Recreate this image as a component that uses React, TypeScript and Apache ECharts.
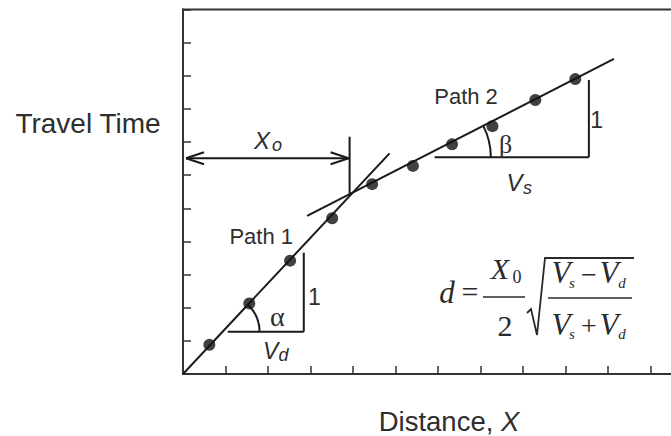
import React, { useEffect, useRef } from "react";
import * as echarts from "echarts";

// ---- data (chart units: one unit = one tick interval) ----
const distance = [0.62, 1.56, 2.52, 3.51, 4.45, 5.41, 6.33, 7.28, 8.29, 9.23];
const travelTime = [0.88, 2.13, 3.42, 4.7, 5.73, 6.28, 6.93, 7.48, 8.27, 8.9];
const path1Fit = [
  [0, 0],
  [4.86, 6.66],
];
const path2Fit = [
  [2.92, 4.77],
  [10.14, 9.51],
];
const xRange = [0, 12];
const yRange = [0, 11];

// annotation anchors (data units)
const crossoverX = 3.92;
const xoArrowY = 6.51;
const xoBarTop = 7.16;
const xoBarBottom = 5.45;
const tri1 = { baseY: 1.276, x0: 1.054, x1: 2.842, top: 3.66, arcX: 0.931 };
const tri2 = { baseY: 6.54, x0: 5.92, x1: 9.55, top: 8.87, arcX: 5.62 };

const INK = "#1a1a1a";
const AXIS = "#333";
const TXT = "#2e2e2e";
const SANS = "'Liberation Sans', Arial, sans-serif";
const SERIF = "'Liberation Serif', 'Times New Roman', serif";

export default function App() {
  const ref = useRef<HTMLDivElement>(null);
  useEffect(() => {
    if (!ref.current) return;
    const chart = echarts.init(ref.current, undefined, { renderer: "svg" });

    const renderItem = (_params: any, api: any) => {
      const c = (x: number, y: number) => api.coord([x, y]);
      const kids: any[] = [];
      const seg = (a: number[], b: number[], w = 2) =>
        kids.push({
          type: "line",
          shape: { x1: a[0], y1: a[1], x2: b[0], y2: b[1] },
          style: { stroke: INK, lineWidth: w },
        });
      const txt = (
        p: number[],
        text: string,
        size: number,
        family = SANS,
        italic = false,
        dx = 0,
        dy = 0
      ) =>
        kids.push({
          type: "text",
          x: p[0] + dx,
          y: p[1] + dy,
          style: {
            text,
            fill: TXT,
            fontSize: size,
            fontFamily: family,
            fontStyle: italic ? "italic" : "normal",
            align: "center",
            verticalAlign: "middle",
          },
        });
      const angleOf = (fit: number[][]) => {
        const a = c(fit[0][0], fit[0][1]);
        const b = c(fit[1][0], fit[1][1]);
        return Math.atan2(a[1] - b[1], b[0] - a[0]);
      };

      // X_o arrow and bar
      const barTop = c(crossoverX, xoBarTop);
      const barBot = c(crossoverX, xoBarBottom);
      seg(barTop, barBot, 2);
      const aL = c(xRange[0], xoArrowY);
      const aR = c(crossoverX, xoArrowY);
      const left = [aL[0] + 3, aL[1]];
      const right = [aR[0] - 1, aR[1]];
      seg(left, right, 2);
      const hl = 18,
        hw = 6;
      seg(left, [left[0] + hl, left[1] - hw], 2);
      seg(left, [left[0] + hl, left[1] + hw], 2);
      seg(right, [right[0] - hl, right[1] - hw], 2);
      seg(right, [right[0] - hl, right[1] + hw], 2);
      const xo = c(1.86, 7.06);
      txt(xo, "X", 24, SANS, true);
      txt(xo, "o", 18, SANS, true, 15, 5);

      // Path 1 triangle
      seg(c(tri1.x0, tri1.baseY), c(tri1.x1, tri1.baseY), 2);
      seg(c(tri1.x1, tri1.baseY), c(tri1.x1, tri1.top), 2);
      const a1 = angleOf(path1Fit);
      const ac1 = c(tri1.arcX, tri1.baseY);
      kids.push({
        type: "arc",
        shape: { cx: ac1[0], cy: ac1[1], r: 37, startAngle: -a1, endAngle: 0, clockwise: true },
        style: { stroke: INK, lineWidth: 2, fill: "none" },
      });
      txt(c(2.22, 1.75), "α", 28, SERIF);
      txt(c(3.09, 2.32), "1", 23, SANS);
      const vd = c(2.06, 0.68);
      txt(vd, "V", 23, SANS, true);
      txt(vd, "d", 18, SANS, true, 13, 4);
      txt(c(1.84, 4.15), "Path 1", 22, SANS);

      // Path 2 triangle
      seg(c(tri2.x0, tri2.baseY), c(tri2.x1, tri2.baseY), 2);
      seg(c(tri2.x1, tri2.baseY), c(tri2.x1, tri2.top), 2);
      const a2 = angleOf(path2Fit);
      const ac2 = c(tri2.arcX, tri2.baseY);
      kids.push({
        type: "arc",
        shape: { cx: ac2[0], cy: ac2[1], r: 69, startAngle: -a2, endAngle: 0, clockwise: true },
        style: { stroke: INK, lineWidth: 2, fill: "none" },
      });
      txt(c(7.59, 6.94), "β", 26, SERIF);
      txt(c(9.73, 7.66), "1", 23, SANS);
      const vs = c(7.8, 5.78);
      txt(vs, "V", 24, SANS, true);
      txt(vs, "s", 18, SANS, true, 13, 6);
      txt(c(6.66, 8.37), "Path 2", 22, SANS);

      return { type: "group", children: kids };
    };

    const fText = (x: number, y: number, text: string, size: number, italic = true) => ({
      type: "text",
      x,
      y,
      style: {
        text,
        fill: "#2a2a2a",
        fontSize: size,
        fontFamily: SERIF,
        fontStyle: italic ? "italic" : "normal",
        align: "center",
        verticalAlign: "middle",
      },
    });
    const fLine = (x1: number, y1: number, x2: number, y2: number) => ({
      type: "line",
      shape: { x1, y1, x2, y2 },
      style: { stroke: "#2a2a2a", lineWidth: 1.6 },
    });

    chart.setOption({
      animation: false,
      grid: {
        left: 183,
        top: 9.5,
        width: 510,
        height: 364.5,
        show: true,
        borderColor: AXIS,
        borderWidth: 2,
        containLabel: false,
        outerBoundsMode: "none",
      },
      xAxis: {
        type: "value",
        min: xRange[0],
        max: xRange[1],
        interval: 1,
        axisLine: { show: true, onZero: false, lineStyle: { color: AXIS, width: 2 } },
        axisTick: { show: true, inside: true, length: 8, lineStyle: { color: AXIS, width: 1.5 } },
        axisLabel: { show: false },
        splitLine: { show: false },
      },
      yAxis: {
        type: "value",
        min: yRange[0],
        max: yRange[1],
        interval: 1,
        axisLine: { show: true, onZero: false, lineStyle: { color: AXIS, width: 2 } },
        axisTick: { show: true, inside: true, length: 8, lineStyle: { color: AXIS, width: 1.5 } },
        axisLabel: { show: false },
        splitLine: { show: false },
      },
      series: [
        {
          type: "line",
          data: path1Fit,
          showSymbol: false,
          lineStyle: { color: INK, width: 2 },
          z: 2,
        },
        {
          type: "line",
          data: path2Fit,
          showSymbol: false,
          lineStyle: { color: INK, width: 2 },
          z: 2,
        },
        {
          type: "custom",
          data: [[0, 0]],
          renderItem,
          z: 3,
          silent: true,
        },
        {
          type: "scatter",
          data: distance.map((d, i) => [d, travelTime[i]]),
          symbolSize: 12,
          itemStyle: { color: "#111" },
          z: 4,
        },
      ],
      graphic: [
        {
          type: "text",
          x: 88,
          y: 123,
          style: {
            text: "Travel Time",
            fill: TXT,
            fontSize: 28,
            fontFamily: SANS,
            align: "center",
            verticalAlign: "middle",
          },
        },
        {
          type: "text",
          x: 449,
          y: 421,
          style: {
            text: "{a|Distance, }{b|X}",
            fill: TXT,
            align: "center",
            verticalAlign: "middle",
            rich: {
              a: { fontSize: 27.5, fontFamily: SANS, fill: TXT },
              b: { fontSize: 27.5, fontFamily: SANS, fontStyle: "italic", fill: TXT },
            },
          },
        },
        {
          type: "group",
          children: [
            fText(447, 292, "d", 31),
            fText(470, 291, "=", 30, false),
            fText(500, 268, "X", 30),
            fText(517, 277, "0", 18, false),
            fLine(483, 297, 525, 297),
            fText(505, 325, "2", 30, false),
            {
              type: "polyline",
              shape: {
                points: [
                  [527, 313],
                  [531, 309],
                  [537, 335],
                  [545, 258],
                  [634, 258],
                ],
              },
              style: { stroke: "#2a2a2a", lineWidth: 1.8, fill: "none" },
            },
            fLine(548, 298, 632, 298),
            fText(561, 272, "V", 31),
            fText(572, 283, "s", 15),
            fText(589, 274, "−", 28, false),
            fText(609, 272, "V", 31),
            fText(622, 283, "d", 15),
            fText(561, 324, "V", 31),
            fText(572, 334, "s", 15),
            fText(589, 325, "+", 28, false),
            fText(609, 324, "V", 31),
            fText(622, 334, "d", 15),
          ],
        },
      ],
    });
    return () => chart.dispose();
  }, []);
  return (
    <div
      ref={ref}
      style={{ position: "fixed", left: 0, top: 0, width: 671, height: 436, background: "#fff" }}
    />
  );
}
